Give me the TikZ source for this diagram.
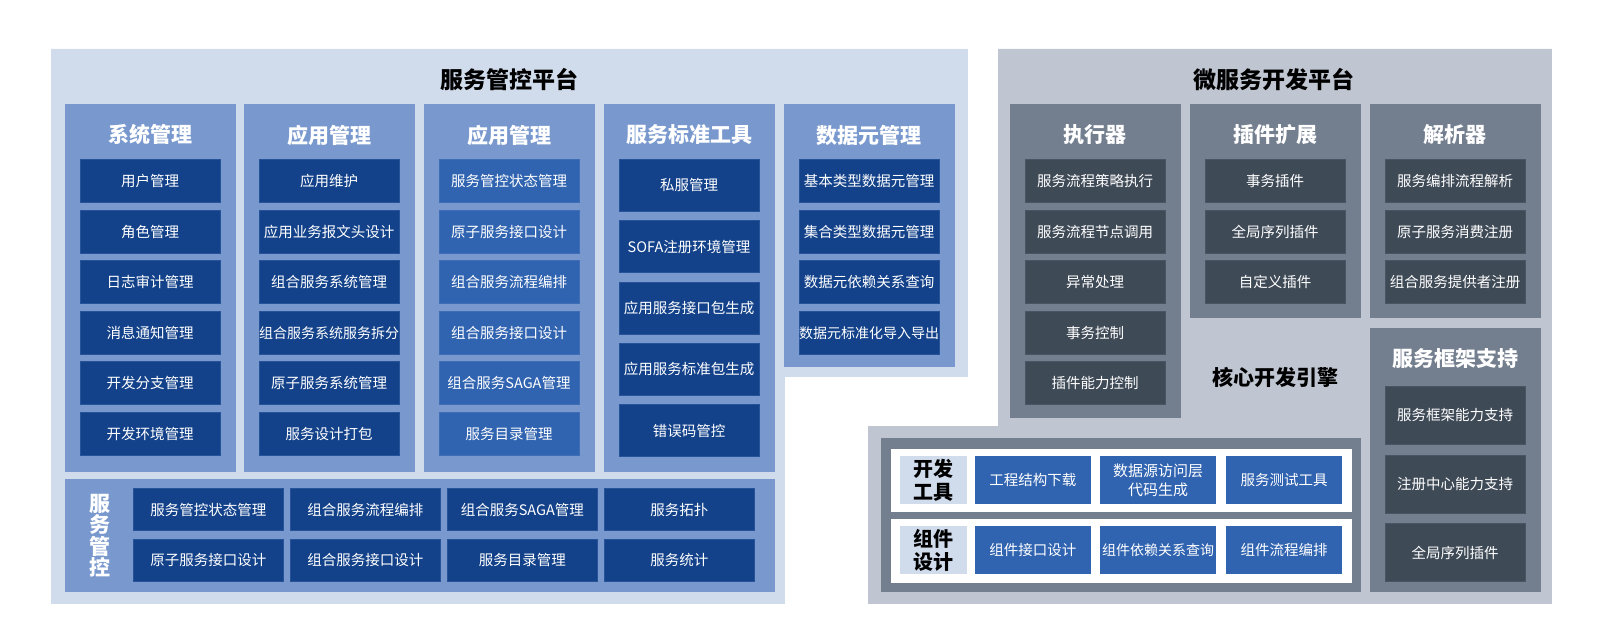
\documentclass[tikz,border=0pt]{standalone}
\usepackage{fontspec}
\setmainfont{Noto Sans CJK SC}
\usetikzlibrary{calc}
\definecolor{skyback}{RGB}{208,220,236}
\definecolor{colblue}{RGB}{121,153,206}
\definecolor{navy}{RGB}{19,66,138}
\definecolor{midblue}{RGB}{48,99,176}
\definecolor{greyback}{RGB}{191,197,209}
\definecolor{colgrey}{RGB}{115,127,143}
\definecolor{slate}{RGB}{63,74,87}
\tikzset{
	cell/.style={inner sep=0pt, text=white, font=\fontsize{14.5}{17}\selectfont, minimum width=140pt, minimum height=43pt},
	navycell/.style={cell, fill=navy, draw=navy!80!colblue, line width=0.6pt},
	midcell/.style={cell, fill=midblue, draw=midblue!80!colblue, line width=0.6pt},
	slatecell/.style={cell, fill=slate, draw=slate!80!colgrey, line width=0.6pt},
	coltitle/.style={inner sep=0pt, text=white, font=\fontsize{21}{24}\selectfont\bfseries},
	plattitle/.style={inner sep=0pt, text=black, font=\fontsize{23}{26}\selectfont\bfseries},
	tagbox/.style={inner sep=0pt, fill=skyback, text=black, align=center, minimum width=67pt, minimum height=48.6pt, font=\fontsize{20}{23}\selectfont\bfseries},
	toolcell/.style={cell, fill=midblue, align=center, minimum width=115.6pt, minimum height=48.6pt}
}

\begin{document}
\begin{tikzpicture}[x=1pt, y=-1pt]
		%%%%% START %%%%%
		\useasboundingbox (0, 0) rectangle (1601, 636);
		
		\draw[color=skyback, fill=skyback] (51, 49) -- (967, 49) -- (967, 376) -- (784, 376) -- (784, 603) -- (51, 603) -- cycle;
		\node[plattitle] (lefttitle) at (509, 80) {服务管控平台};
		
		\draw[color=colblue, fill=colblue] (65, 104) rectangle (235, 471);
		\draw[color=colblue, fill=colblue] (244, 104) rectangle (414, 471);
		\draw[color=colblue, fill=colblue] (424, 104) rectangle (594, 471);
		\draw[color=colblue, fill=colblue] (604, 104) rectangle (774, 471);
		\draw[color=colblue, fill=colblue] (784, 104) rectangle (954, 366);
		
		\node[coltitle] (systitle) at (150, 135) {系统管理};
		\node[navycell] (sys1) at (150, 181.2) {用户管理};
		\node[navycell] (sys2) at (150, 231.7) {角色管理};
		\node[navycell] (sys3) at (150, 282.2) {日志审计管理};
		\node[navycell] (sys4) at (150, 332.7) {消息通知管理};
		\node[navycell] (sys5) at (150, 383.2) {开发分支管理};
		\node[navycell] (sys6) at (150, 433.7) {开发环境管理};
		
		\node[coltitle] (apptitle) at (329, 135) {应用管理};
		\node[navycell] (app1) at (329, 181.2) {应用维护};
		\node[navycell] (app2) at (329, 231.7) {应用业务报文头设计};
		\node[navycell] (app3) at (329, 282.2) {组合服务系统管理};
		\node[navycell, font=\fontsize{14}{16}\selectfont] (app4) at (329, 332.7) {组合服务系统服务拆分};
		\node[navycell] (app5) at (329, 383.2) {原子服务系统管理};
		\node[navycell] (app6) at (329, 433.7) {服务设计打包};
		
		\node[coltitle] (svctitle) at (509, 135) {应用管理};
		\node[midcell] (svc1) at (509, 181.2) {服务管控状态管理};
		\node[midcell] (svc2) at (509, 231.7) {原子服务接口设计};
		\node[midcell] (svc3) at (509, 282.2) {组合服务流程编排};
		\node[midcell] (svc4) at (509, 332.7) {组合服务接口设计};
		\node[midcell] (svc5) at (509, 383.2) {组合服务SAGA管理};
		\node[midcell] (svc6) at (509, 433.7) {服务目录管理};
		
		\node[coltitle] (stdtitle) at (689, 135) {服务标准工具};
		\node[navycell, minimum height=52pt] (std1) at (689, 185.3) {私服管理};
		\node[navycell, minimum height=52pt] (std2) at (689, 246.6) {SOFA注册环境管理};
		\node[navycell, minimum height=52pt] (std3) at (689, 307.9) {应用服务接口包生成};
		\node[navycell, minimum height=52pt] (std4) at (689, 369.2) {应用服务标准包生成};
		\node[navycell, minimum height=52pt] (std5) at (689, 430.5) {错误码管控};
		
		\node[coltitle] (metatitle) at (869, 135) {数据元管理};
		\node[navycell] (meta1) at (869, 181.2) {基本类型数据元管理};
		\node[navycell] (meta2) at (869, 231.7) {集合类型数据元管理};
		\node[navycell] (meta3) at (869, 282.2) {数据元依赖关系查询};
		\node[navycell, font=\fontsize{14}{16}\selectfont] (meta4) at (869, 332.7) {数据元标准化导入导出};
		
		\draw[color=colblue, fill=colblue] (65, 479) rectangle (774, 591);
		\node[coltitle, align=center, font=\fontsize{21}{21.5}\selectfont\bfseries] (ctltitle) at (100, 535.5) {服\\务\\管\\控};
		\node[navycell, minimum width=150pt, minimum height=42.5pt] (ctl1) at (208.3, 509.5) {服务管控状态管理};
		\node[navycell, minimum width=150pt, minimum height=42.5pt] (ctl2) at (365.3, 509.5) {组合服务流程编排};
		\node[navycell, minimum width=150pt, minimum height=42.5pt] (ctl3) at (522.3, 509.5) {组合服务SAGA管理};
		\node[navycell, minimum width=150pt, minimum height=42.5pt] (ctl4) at (679.3, 509.5) {服务拓扑};
		\node[navycell, minimum width=150pt, minimum height=42.5pt] (ctl5) at (208.3, 560.2) {原子服务接口设计};
		\node[navycell, minimum width=150pt, minimum height=42.5pt] (ctl6) at (365.3, 560.2) {组合服务接口设计};
		\node[navycell, minimum width=150pt, minimum height=42.5pt] (ctl7) at (522.3, 560.2) {服务目录管理};
		\node[navycell, minimum width=150pt, minimum height=42.5pt] (ctl8) at (679.3, 560.2) {服务统计};
		
		\draw[color=greyback, fill=greyback] (998, 49) -- (1551, 49) -- (1551, 603) -- (868, 603) -- (868, 426) -- (998, 426) -- cycle;
		\node[plattitle] (righttitle) at (1274, 80) {微服务开发平台};
		
		\draw[color=colgrey, fill=colgrey] (1010, 104) rectangle (1180, 417);
		\draw[color=colgrey, fill=colgrey] (1190, 104) rectangle (1360, 317);
		\draw[color=colgrey, fill=colgrey] (1370, 104) rectangle (1540, 317);
		\draw[color=colgrey, fill=colgrey] (1370, 328) rectangle (1540, 591);
		
		\node[coltitle] (exetitle) at (1095, 135) {执行器};
		\node[slatecell] (exe1) at (1095, 181.2) {服务流程策略执行};
		\node[slatecell] (exe2) at (1095, 231.7) {服务流程节点调用};
		\node[slatecell] (exe3) at (1095, 282.2) {异常处理};
		\node[slatecell] (exe4) at (1095, 332.7) {事务控制};
		\node[slatecell] (exe5) at (1095, 383.2) {插件能力控制};
		
		\node[coltitle] (plugtitle) at (1275, 135) {插件扩展};
		\node[slatecell] (plug1) at (1275, 181.2) {事务插件};
		\node[slatecell] (plug2) at (1275, 231.7) {全局序列插件};
		\node[slatecell] (plug3) at (1275, 282.2) {自定义插件};
		
		\node[coltitle] (parsetitle) at (1455, 135) {解析器};
		\node[slatecell] (parse1) at (1455, 181.2) {服务编排流程解析};
		\node[slatecell] (parse2) at (1455, 231.7) {原子服务消费注册};
		\node[slatecell] (parse3) at (1455, 282.2) {组合服务提供者注册};
		
		\node[coltitle] (frametitle) at (1455, 359) {服务框架支持};
		\node[slatecell, minimum height=58pt] (frame1) at (1455, 415.2) {服务框架能力支持};
		\node[slatecell, minimum height=58pt] (frame2) at (1455, 483.9) {注册中心能力支持};
		\node[slatecell, minimum height=58pt] (frame3) at (1455, 552.5) {全局序列插件};
		
		\node[plattitle, font=\fontsize{21}{24}\selectfont\bfseries] (coretitle) at (1275, 377) {核心开发引擎};
		
		\draw[color=colgrey, fill=colgrey] (881, 438) rectangle (1360, 591);
		\draw[color=white, fill=white] (891, 449) rectangle (1351, 511);
		\draw[color=white, fill=white] (891, 519) rectangle (1351, 582);
		
		\node[tagbox] (devtag) at (933.5, 480) {开发\\工具};
		\node[toolcell] (dev1) at (1032.8, 480) {工程结构下载};
		\node[toolcell, font=\fontsize{15}{19}\selectfont] (dev2) at (1158.1, 480) {数据源访问层\\代码生成};
		\node[toolcell] (dev3) at (1284, 480) {服务测试工具};
		
		\node[tagbox] (comptag) at (933.5, 550) {组件\\设计};
		\node[toolcell] (comp1) at (1032.8, 550) {组件接口设计};
		\node[toolcell, font=\fontsize{14}{16}\selectfont] (comp2) at (1158.1, 550) {组件依赖关系查询};
		\node[toolcell] (comp3) at (1284, 550) {组件流程编排};
		
		%%%%% END %%%%%
	\end{tikzpicture}
\end{document}
